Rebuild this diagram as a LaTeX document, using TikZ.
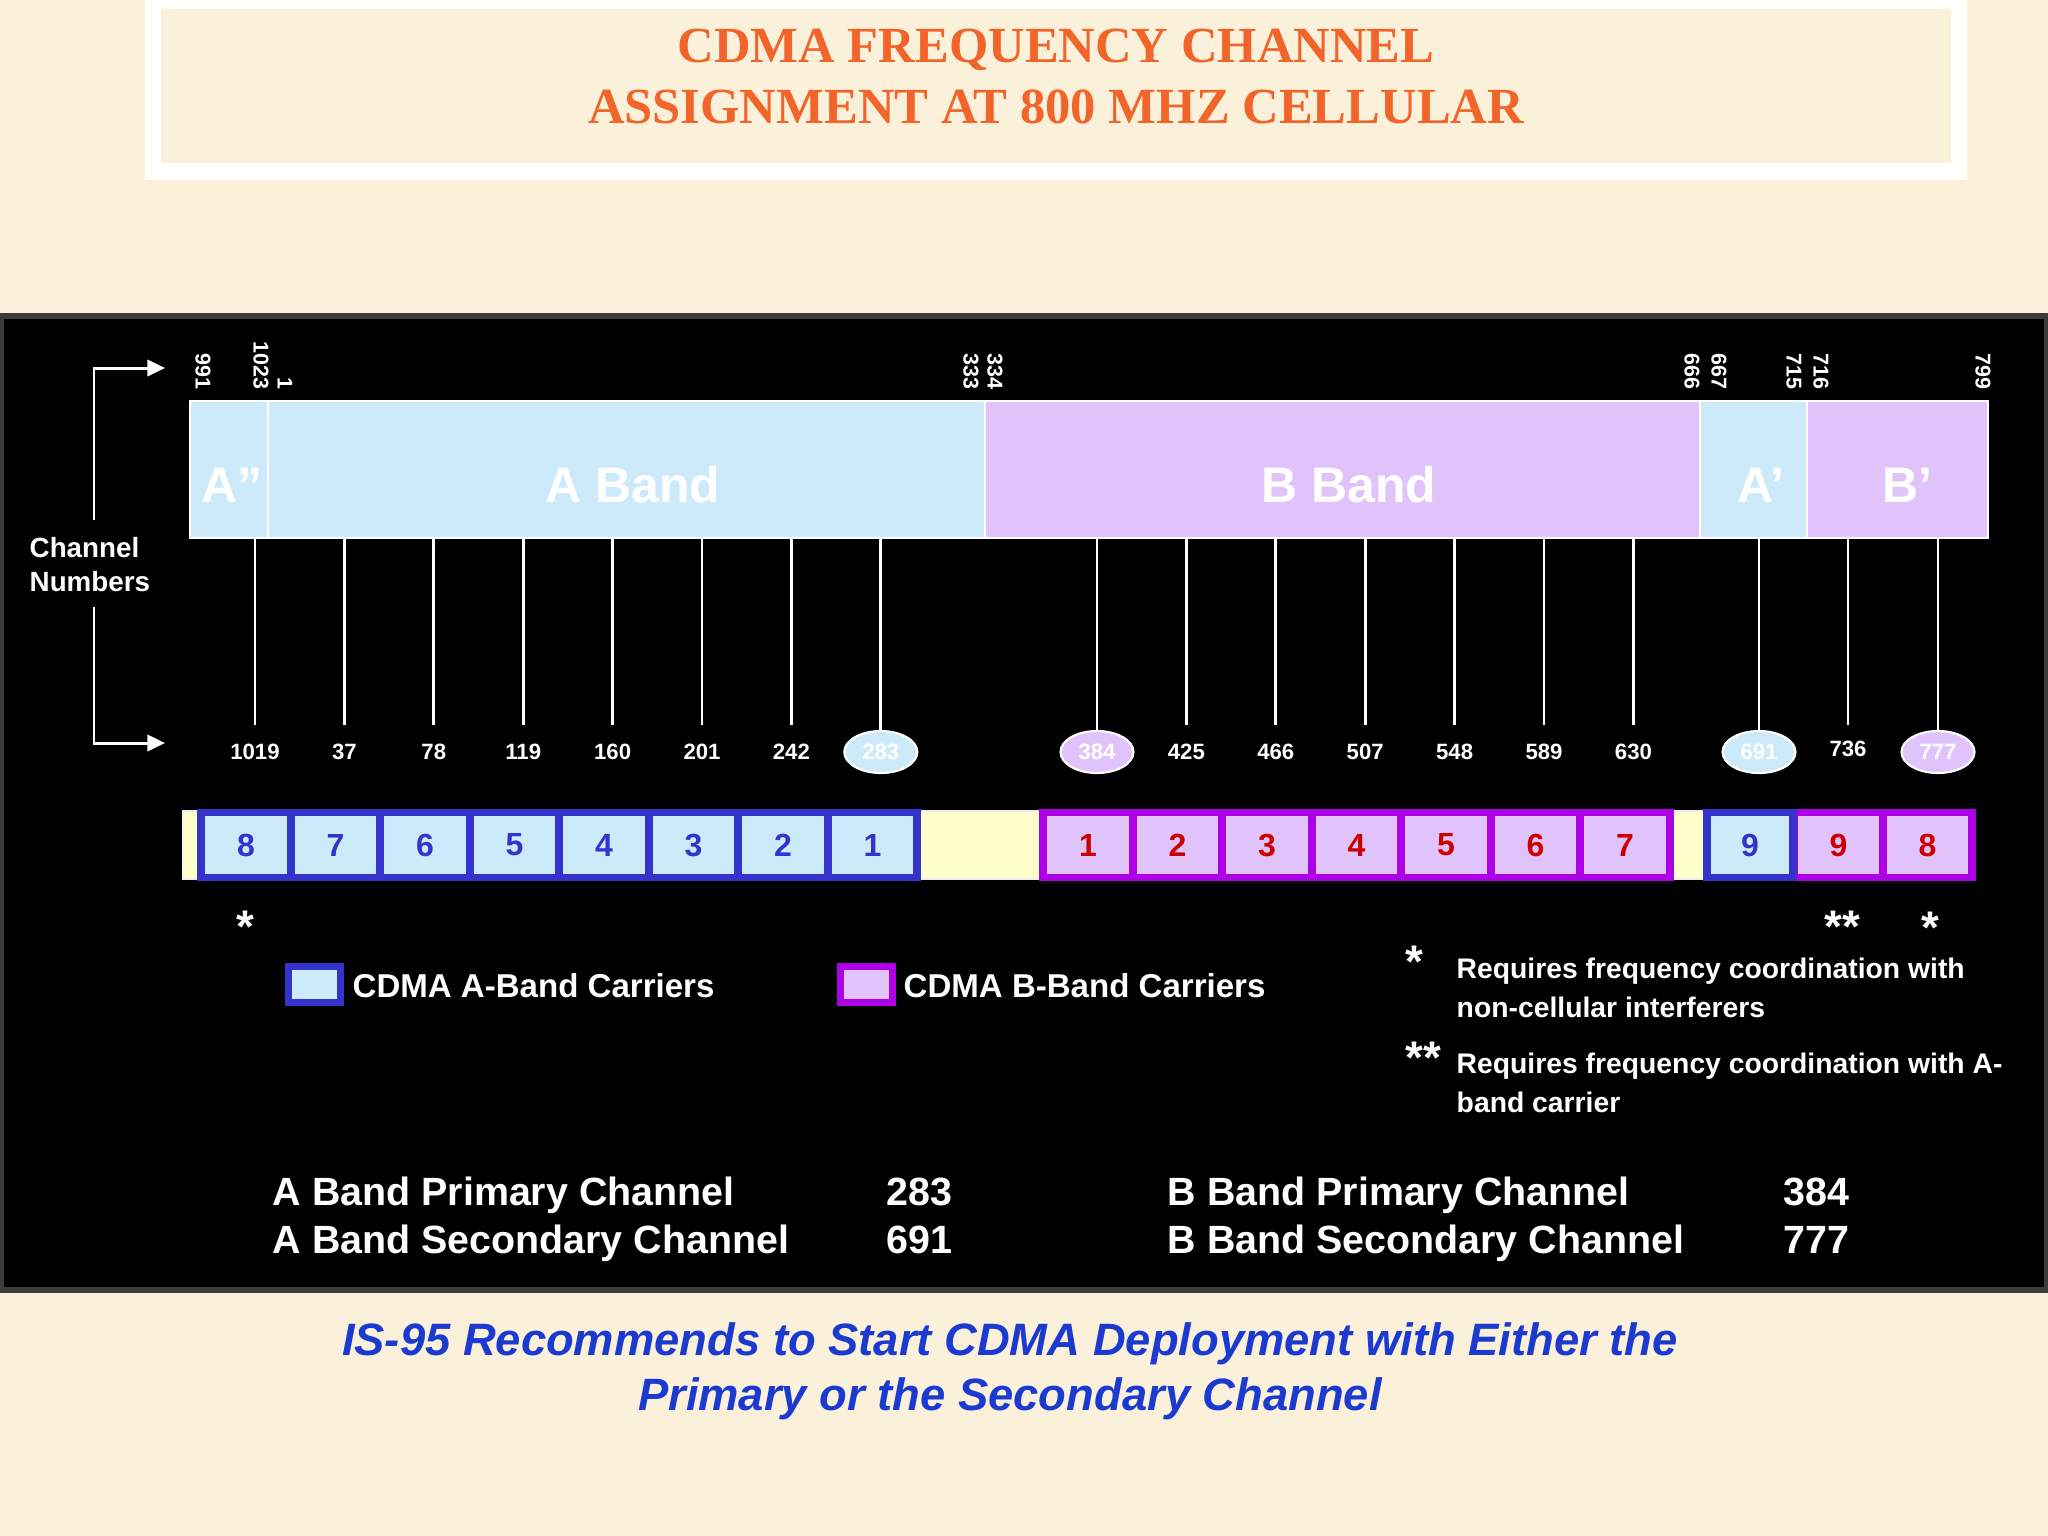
\documentclass[tikz,border=0pt]{standalone}
\usepackage{fontspec}
\setmainfont{Liberation Sans}
\newfontfamily\titlefont{Liberation Serif}
\usetikzlibrary{arrows.meta,shapes.geometric}
\definecolor{cream}{HTML}{FBF1DB}
\definecolor{ttlorange}{HTML}{F2652A}
\definecolor{bandA}{HTML}{CDEAFB}
\definecolor{bandB}{HTML}{E1C3FB}
\definecolor{carA}{HTML}{3434CC}
\definecolor{carB}{HTML}{AE00E6}
\definecolor{numred}{HTML}{CC0000}
\definecolor{capblue}{HTML}{1A3AD0}
\definecolor{yel}{HTML}{FFFFCC}
\definecolor{edgegray}{HTML}{3C3C3C}
\tikzset{
  ttl/.style={text=ttlorange, font=\titlefont\bfseries\fontsize{14.4}{17}\selectfont, inner sep=0, anchor=base},
  bandseg/.style={draw=white, line width=0.7pt, inner sep=0, minimum height=1.37cm},
  bandlbl/.style={text=white, font=\bfseries\fontsize{14.2}{17}\selectfont, inner sep=0, anchor=base},
  chnum/.style={text=white, font=\bfseries\fontsize{6.1}{7}\selectfont, rotate=-90, anchor=east, inner sep=0},
  ticklbl/.style={text=white, font=\bfseries\fontsize{6.3}{7.5}\selectfont, inner sep=0, anchor=base},
  prim/.style={ellipse, draw=white, line width=0.6pt, minimum width=0.73cm, minimum height=0.42cm, inner sep=0, text=white, font=\bfseries\fontsize{6.3}{7.5}\selectfont},
  tickline/.style={white, line width=0.75pt},
  arr/.style={white, line width=0.85pt, -{Triangle[length=5pt,width=4.6pt]}},
  sidelbl/.style={text=white, font=\bfseries\fontsize{7.9}{9}\selectfont, inner sep=0, anchor=base west},
  carrA/.style={draw=carA, fill=bandA, line width=2.2pt, minimum width=0.895cm, minimum height=0.65cm, inner sep=0, text=carA, font=\bfseries\fontsize{9.1}{10}\selectfont},
  carrB/.style={draw=carB, fill=bandB, line width=2.2pt, minimum width=0.895cm, minimum height=0.65cm, inner sep=0, text=numred, font=\bfseries\fontsize{9.1}{10}\selectfont},
  starlbl/.style={text=white, font=\bfseries\fontsize{13}{15}\selectfont, inner sep=0, anchor=base},
  legbox/.style={line width=2pt, minimum width=0.52cm, minimum height=0.36cm, inner sep=0},
  legtxt/.style={text=white, font=\bfseries\fontsize{9.4}{11}\selectfont, inner sep=0, anchor=base west},
  notetxt/.style={text=white, font=\bfseries\fontsize{8.05}{10}\selectfont, inner sep=0, anchor=base west},
  tabtxt/.style={text=white, font=\bfseries\fontsize{11.2}{13}\selectfont, inner sep=0, anchor=base west},
  captxt/.style={text=capblue, font=\bfseries\itshape\fontsize{12.9}{15}\selectfont, inner sep=0, anchor=base},
}
\begin{document}
\begin{tikzpicture}[x=0.01cm,y=-0.01cm]
\useasboundingbox (0,0) rectangle (2048,1536);
\fill[cream] (0,0) rectangle (2048,1536);
% title frame
\fill[white] (145,0) rectangle (1967,180);
\fill[cream] (161,9) rectangle (1951,163);
\node[ttl] (title1) at (1056,62) {CDMA FREQUENCY CHANNEL};
\node[ttl] (title2) at (1056,123) {ASSIGNMENT AT 800 MHZ CELLULAR};
% black panel
\filldraw[fill=black, draw=edgegray, line width=1.6pt] (1,316) rectangle (2047,1290);
% band segments
\node[bandseg, fill=bandA, minimum width=0.78cm] (segApp) at (229,469.5) {};
\node[bandseg, fill=bandA, minimum width=7.17cm] (segA) at (626.5,469.5) {};
\node[bandseg, fill=bandB, minimum width=7.15cm] (segB) at (1342.5,469.5) {};
\node[bandseg, fill=bandA, minimum width=1.07cm] (segAp) at (1753.5,469.5) {};
\node[bandseg, fill=bandB, minimum width=1.81cm] (segBp) at (1897.5,469.5) {};
\node[bandlbl] (lApp) at (232,502) {A”};
\node[bandlbl] (lA) at (633,502) {A Band};
\node[bandlbl] (lB) at (1349,502) {B Band};
\node[bandlbl] (lAp) at (1761,502) {A’};
\node[bandlbl] (lBp) at (1907,502) {B’};
% channel numbers at band edges
\foreach \x/\n in {203/991,261/1023,285/1,971/333,995/334,1692/666,1719/667,1794/715,1821/716,1983/799}
  \node[chnum] (edge\n) at (\x,390) {\n};
% side label and arrows
\node[sidelbl] (cn1) at (29,557) {Channel};
\node[sidelbl] (cn2) at (29,591) {Numbers};
\coordinate (arrUpStart) at (94,520);
\coordinate (arrUpEnd) at (165,368);
\coordinate (arrLoStart) at (94,607);
\coordinate (arrLoEnd) at (165,743);
\draw[arr] (arrUpStart) |- (arrUpEnd);
\draw[arr] (arrLoStart) |- (arrLoEnd);
% carrier ticks with plain labels
\foreach \x/\n in {255/1019,344.4/37,433.8/78,523.2/119,612.6/160,702/201,791.4/242,1186.4/425,1275.8/466,1365.2/507,1454.6/548,1544/589,1633.4/630}{
  \node[ticklbl] (lbl\n) at (\x,759) {\n};
  \coordinate (tk\n) at (\x,725);
  \draw[tickline] (tk\n |- segA.south) -- (tk\n);
}
\node[ticklbl] (lbl736) at (1848,756) {736};
\coordinate (tk736) at (1848,725);
\draw[tickline] (tk736 |- segA.south) -- (tk736);
% primary / secondary channels
\node[prim, fill=bandA] (p283) at (880.8,752) {283};
\node[prim, fill=bandB] (p384) at (1097,752) {384};
\node[prim, fill=bandA] (p691) at (1759,752) {691};
\node[prim, fill=bandB] (p777) at (1938,752) {777};
\foreach \p in {p283,p384,p691,p777}
  \draw[tickline] (\p.north |- segA.south) -- (\p.north);
% carrier strip
\node[fill=yel, draw=white!85!gray, line width=0.5pt, minimum width=17.89cm, minimum height=0.68cm, inner sep=0] (strip) at (1077.5,845) {};
\foreach \n [count=\i from 0] in {8,7,6,5,4,3,2,1}
  \node[carrA] (ca\n) at ({246+89.5*\i},845) {\n};
\foreach \n [count=\i from 0] in {1,2,3,4,5,6,7}
  \node[carrB] (cb\n) at ({1088+89.5*\i},845) {\n};
\node[carrB, minimum width=0.89cm] (cb9) at (1838.5,845) {9};
\node[carrB, minimum width=0.89cm] (cb8) at (1927.5,845) {8};
\node[carrA, minimum width=0.86cm] (ca9) at (1750,845) {9};
% stars under carriers
\node[starlbl] (st1) at (245,942) {*};
\node[starlbl] (st2) at (1842,942) {**};
\node[starlbl] (st3) at (1930,943) {*};
% legend
\node[legbox, draw=carA, fill=bandA] (legA) at (314.5,984.5) {};
\node[legtxt] (legAt) at (352,997) {CDMA A-Band Carriers};
\node[legbox, draw=carB, fill=bandB] (legB) at (866.5,984.5) {};
\node[legtxt] (legBt) at (903,997) {CDMA B-Band Carriers};
% footnotes
\node[starlbl] (fn1) at (1414,977) {*};
\node[notetxt] (fn1a) at (1456,978) {Requires frequency coordination with};
\node[notetxt] (fn1b) at (1456,1017) {non-cellular interferers};
\node[starlbl] (fn2) at (1423,1073) {**};
\node[notetxt] (fn2a) at (1456,1073) {Requires frequency coordination with A-};
\node[notetxt] (fn2b) at (1456,1112) {band carrier};
% table
\node[tabtxt] (tA1) at (272,1205) {A Band Primary Channel};
\node[tabtxt] (tA2) at (272,1253) {A Band Secondary Channel};
\node[tabtxt] (vA1) at (886,1205) {283};
\node[tabtxt] (vA2) at (886,1253) {691};
\node[tabtxt] (tB1) at (1167,1205) {B Band Primary Channel};
\node[tabtxt] (tB2) at (1167,1253) {B Band Secondary Channel};
\node[tabtxt] (vB1) at (1783,1205) {384};
\node[tabtxt] (vB2) at (1783,1253) {777};
% caption
\node[captxt] (cap1) at (1010,1355) {IS-95 Recommends to Start CDMA Deployment with Either the};
\node[captxt] (cap2) at (1010,1410) {Primary or the Secondary Channel};
\end{tikzpicture}
\end{document}
